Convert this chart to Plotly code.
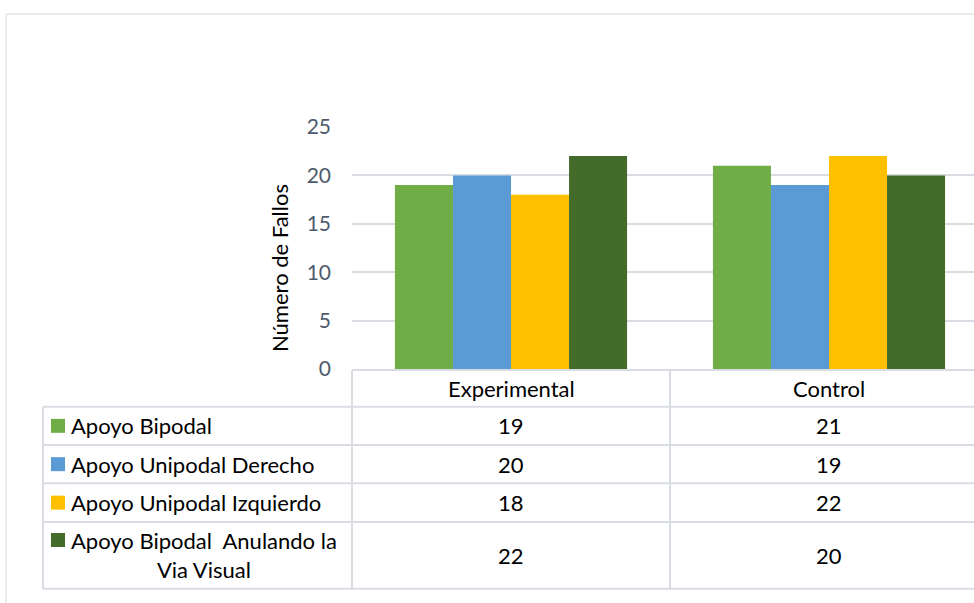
import plotly.graph_objects as go

# Chart data
groups = ["Experimental", "Control"]
series_names = [
    "Apoyo Bipodal",
    "Apoyo Unipodal Derecho",
    "Apoyo Unipodal Izquierdo",
    "Apoyo Bipodal  Anulando la<br>Via Visual",
]
apoyo_bipodal = [19, 21]
apoyo_unipodal_derecho = [20, 19]
apoyo_unipodal_izquierdo = [18, 22]
apoyo_bipodal_sin_vision = [22, 20]
y_ticks = [0, 5, 10, 15, 20, 25]

series_values = [
    apoyo_bipodal,
    apoyo_unipodal_derecho,
    apoyo_unipodal_izquierdo,
    apoyo_bipodal_sin_vision,
]
colors = ["#70AD47", "#5B9BD5", "#FFC000", "#436B2A"]

W, H = 974, 603
L, R, T, B = 352, 974, 127, 369  # plot area in pixels

FONT = "Lato"
FS = 22
GRID = "#D9DDE3"


def px(x):
    return (x - L) / (R - L)


def py(y):
    return (B - y) / (B - T)


fig = go.Figure()
for name, vals, col in zip(series_names, series_values, colors):
    fig.add_trace(go.Bar(
        x=groups, y=vals, name=name.replace("<br>", " "),
        marker=dict(color=col, line=dict(width=0)),
        showlegend=False,
    ))

shapes = []
annotations = []


def hline(x0, x1, y):
    shapes.append(dict(type="line", xref="paper", yref="paper",
                       x0=px(x0), x1=px(x1), y0=py(y), y1=py(y),
                       line=dict(color=GRID, width=2)))


def vline(x, y0, y1):
    shapes.append(dict(type="line", xref="paper", yref="paper",
                       x0=px(x), x1=px(x), y0=py(y0), y1=py(y1),
                       line=dict(color=GRID, width=2)))


# Outer chart frame
shapes.append(dict(type="rect", xref="paper", yref="paper",
                   x0=px(6), x1=px(1000), y0=py(14), y1=py(640),
                   line=dict(color="#D9D9D9", width=1), layer="below"))

# Data table grid
header_top, header_bot = 370, 406.7
row_edges = [406.7, 445, 483.3, 522, 588.7]
col_edges = [352, 670]
hline(352, 1000, header_top)
for y in row_edges:
    hline(43, 1000, y)
vline(43, row_edges[0], row_edges[-1])
for x in col_edges:
    vline(x, header_top, row_edges[-1])

col_centers = [511, 829]
for g, cx in zip(groups, col_centers):
    annotations.append(dict(x=px(cx), y=py((header_top + header_bot) / 2),
                            xref="paper", yref="paper", text=g, showarrow=False,
                            xanchor="center", yanchor="middle",
                            font=dict(family=FONT, size=FS, color="#000000")))

for i, (name, vals, col) in enumerate(zip(series_names, series_values, colors)):
    top, bot = row_edges[i], row_edges[i + 1]
    cy = (top + bot) / 2
    key_cy = cy if "<br>" not in name else top + 18
    shapes.append(dict(type="rect", xref="paper", yref="paper",
                       x0=px(51), x1=px(65), y0=py(key_cy - 7), y1=py(key_cy + 7),
                       fillcolor=col, line=dict(width=0)))
    annotations.append(dict(x=px(69), y=py(cy), xref="paper", yref="paper",
                            text=name, showarrow=False, align="center",
                            xanchor="left", yanchor="middle",
                            font=dict(family=FONT, size=FS, color="#000000")))
    for v, cx in zip(vals, col_centers):
        annotations.append(dict(x=px(cx), y=py(cy), xref="paper", yref="paper",
                                text=str(v), showarrow=False,
                                xanchor="center", yanchor="middle",
                                font=dict(family=FONT, size=FS, color="#000000")))

# Y axis title
annotations.append(dict(x=px(279), y=py(268), xref="paper", yref="paper",
                        text="Número de Fallos", showarrow=False, textangle=-90,
                        xanchor="center", yanchor="middle",
                        font=dict(family=FONT, size=FS, color="#000000")))

fig.update_layout(
    width=W, height=H,
    margin=dict(l=L, r=W - R, t=T, b=H - B, autoexpand=False),
    paper_bgcolor="white", plot_bgcolor="white",
    barmode="group", bargap=0.27, bargroupgap=0,
    shapes=shapes, annotations=annotations,
    xaxis=dict(type="category", range=[-0.5, -0.5 + (R - L) / 318],
               showticklabels=False, showgrid=False, zeroline=False,
               showline=False, ticks=""),
    yaxis=dict(range=[0, 25], tickvals=y_ticks, showgrid=True,
               gridcolor=GRID, gridwidth=2, zeroline=False, showline=False,
               ticks="", ticklabelstandoff=20,
               tickfont=dict(family=FONT, size=21, color="#4E5B6E")),
)

fig.write_html("out.html")
